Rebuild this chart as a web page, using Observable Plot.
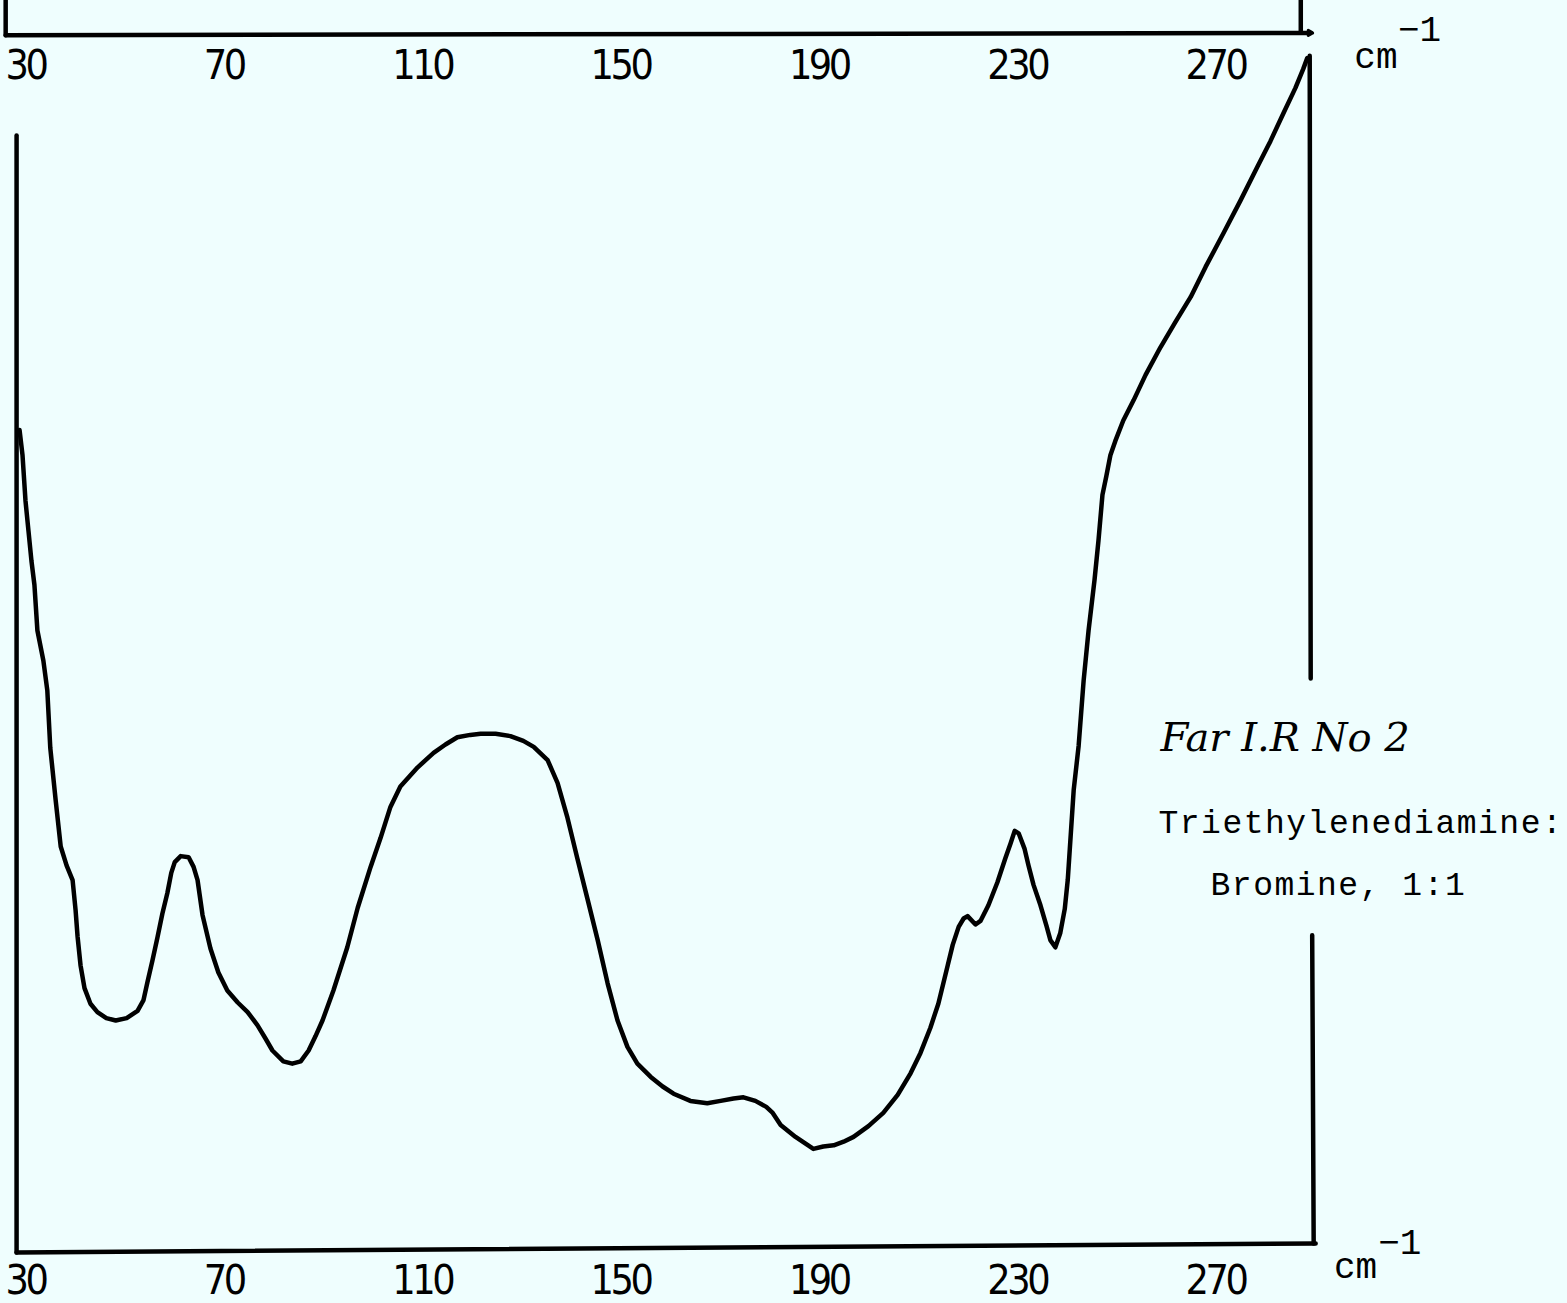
<!DOCTYPE html>
<html>
<head>
<meta charset="utf-8">
<script src="https://cdn.jsdelivr.net/npm/d3@7"></script>
<script src="https://cdn.jsdelivr.net/npm/@observablehq/plot@0.6"></script>
<style>
  html, body { margin: 0; padding: 0; background: #effefe; }
  #chart { width: 1567px; height: 1303px; overflow: hidden; }
</style>
</head>
<body>
<div id="chart"></div>
<script>
// ---- Data: far-IR spectrum, Triethylenediamine : Bromine 1:1 ----
// wavenumber (cm^-1)
const wavenumber = [
  28.8, 29.4, 30.0, 30.6, 31.2, 31.8, 32.4, 33.6, 34.4, 35.0, 36.1, 37.1, 38.3, 39.5, 40.1, 40.5,
  41.1, 41.9, 43.1, 44.5, 46.3, 48.2, 50.4, 52.6, 53.8, 54.6, 55.6, 56.6, 57.6, 58.6, 59.4, 60.1,
  61.3, 62.9, 63.9, 64.7, 65.7, 67.3, 68.9, 70.7, 72.8, 74.8, 76.8, 78.4, 79.8, 82.0, 83.8, 85.5,
  87.1, 88.5, 89.9, 92.1, 94.9, 97.0, 99.6, 101.6, 103.6, 105.6, 109.1, 112.3, 114.7, 117.1, 119.7,
  121.8, 124.8, 127.8, 130.4, 132.5, 135.3, 137.3, 139.3, 141.3, 143.3, 145.4, 147.4, 149.4, 151.4,
  153.4, 156.1, 158.5, 160.7, 164.1, 167.5, 170.2, 172.8, 174.8, 177.2, 179.4, 180.7, 182.3, 185.3,
  188.9, 190.9, 193.0, 195.0, 197.0, 200.0, 203.0, 205.9, 208.5, 210.5, 212.5, 214.1, 216.0, 217.0,
  218.2, 219.2, 220.0, 221.6, 222.6, 224.2, 226.0, 227.6, 228.7, 229.5, 230.3, 231.5, 232.3, 233.3,
  234.7, 235.9, 236.7, 237.7, 238.7, 239.6, 240.2, 240.6, 241.4, 242.4, 243.4, 244.4, 245.6, 246.4,
  247.2, 248.0, 248.8, 249.8, 251.4, 253.5, 255.9, 258.9, 261.9, 265.0, 268.0, 271.6, 275.0, 278.4,
  281.1, 283.7, 286.1, 287.7, 288.5
];
// relative transmittance (%)
const transmittance = [
  68.2, 66.1, 62.3, 59.8, 57.3, 55.3, 51.5, 49.0, 46.5, 41.7, 37.3, 33.5, 31.9, 30.7, 28.2, 26.0,
  23.6, 21.7, 20.4, 19.7, 19.2, 19.0, 19.2, 19.8, 20.7, 22.2, 24.0, 25.9, 27.9, 29.6, 31.3, 32.2,
  32.7, 32.6, 31.8, 30.7, 27.8, 25.0, 23.0, 21.5, 20.5, 19.7, 18.6, 17.5, 16.5, 15.6, 15.4, 15.6,
  16.5, 17.7, 19.0, 21.5, 25.1, 28.4, 31.8, 34.2, 36.8, 38.5, 40.1, 41.3, 42.0, 42.6, 42.8,
  42.9, 42.9, 42.7, 42.3, 41.8, 40.7, 38.8, 35.9, 32.5, 29.2, 25.7, 22.1, 19.0, 16.8,
  15.4, 14.3, 13.5, 12.9, 12.3, 12.1, 12.3, 12.5, 12.6, 12.3, 11.8, 11.3, 10.3, 9.3,
  8.3, 8.5, 8.6, 8.9, 9.3, 10.2, 11.3, 12.8, 14.6, 16.3, 18.4, 20.4, 23.6, 25.3,
  26.8, 27.5, 27.7, 27.0, 27.3, 28.6, 30.5, 32.5, 33.8, 34.8, 34.6, 33.3, 31.9, 30.3,
  28.6, 26.9, 25.7, 25.1, 26.3, 28.3, 30.7, 33.2, 38.2, 41.9, 47.3, 51.5, 55.7, 59.0,
  62.8, 64.4, 66.1, 67.3, 69.0, 70.7, 72.8, 75.1, 77.2, 79.3, 81.8, 84.6, 87.3, 90.1,
  92.3, 94.6, 96.7, 98.3, 99.2
];

// tick labels (cm^-1)
const tickValues = [30, 70, 110, 150, 190, 230, 270];
const tickLabels = ["30", "70", "110", "150", "190", "230", "270"];

// chart frame segments (segment id, wavenumber, transmittance)
const frameSeg = ["left", "left", "bottom", "bottom", "rightUp", "rightUp", "rightLow", "rightLow",
                  "prevAxis", "prevAxis", "prevLeft", "prevLeft", "prevRight", "prevRight"];
const frameX   = [28.2, 28.2, 28.2, 290.2, 289.0, 289.2, 289.5, 289.8,
                  26.0, 288.6, 26.0, 26.0, 287.2, 287.2];
const frameY   = [92.75, -0.33, -0.33, 0.42, 99.4, 47.5, 26.1, 0.42,
                  101.1, 101.3, 104.5, 101.1, 104.5, 101.5];

// annotation text
const noteTitle = "Far I.R No 2";
const noteLines = ["Triethylenediamine:", "Bromine, 1:1"];
const unitBase = "cm";
const unitExp = "\u22121";

const curve = wavenumber.map((w, i) => ({w, t: transmittance[i]}));
const frame = frameSeg.map((s, i) => ({s, w: frameX[i], t: frameY[i]}));
const ticks = tickValues.map((v, i) => ({v, label: tickLabels[i]}));

const mono = "Liberation Mono, DejaVu Sans Mono, monospace";
const narrow = "Liberation Sans Narrow, DejaVu Sans Condensed, Arial Narrow, sans-serif";

const plot = Plot.plot({
  width: 1567,
  height: 1303,
  margin: 0,
  style: {background: "#effefe", overflow: "visible", color: "#000"},
  x: {domain: [30, 270], range: [25, 1215], axis: null},
  y: {domain: [0, 100], range: [1248, 48], axis: null},
  marks: [
    // frame
    Plot.line(frame, {x: "w", y: "t", z: "s", stroke: "#000", strokeWidth: 4.5, strokeLinecap: "round"}),
    Plot.arrow([{x1: 286.5, x2: 289.6, y: 101.3}], {x1: "x1", x2: "x2", y1: "y", y2: "y", stroke: "#000", strokeWidth: 3, headLength: 10}),
    // spectrum
    Plot.line(curve, {x: "w", y: "t", stroke: "#000", strokeWidth: 4.5, strokeLinejoin: "round", strokeLinecap: "round"}),
    // tick labels: previous chart (top) and this chart (bottom)
    Plot.text(ticks, {x: "v", y: 98.55, text: "label", fontFamily: narrow, fontSize: 41, fill: "#000"}),
    Plot.text(ticks, {x: "v", y: -2.7, text: "label", fontFamily: narrow, fontSize: 41, fill: "#000"}),
    // units
    Plot.text([unitBase], {x: 298.0, y: 99.3, text: d => d, textAnchor: "start", fontFamily: mono, fontSize: 36, fill: "#000"}),
    Plot.text([unitExp], {x: 306.8, y: 101.6, text: d => d, textAnchor: "start", fontFamily: mono, fontSize: 36, fill: "#000"}),
    Plot.text([unitBase], {x: 293.9, y: -1.5, text: d => d, textAnchor: "start", fontFamily: mono, fontSize: 36, fill: "#000"}),
    Plot.text([unitExp], {x: 302.8, y: 0.5, text: d => d, textAnchor: "start", fontFamily: mono, fontSize: 36, fill: "#000"}),
    // annotations
    Plot.text([noteTitle], {x: 258.9, y: 42.5, text: d => d, textAnchor: "start", fontFamily: "DejaVu Serif, serif", fontStyle: "italic", fontSize: 40, fill: "#000"}),
    Plot.text([noteLines[0]], {x: 258.5, y: 35.5, text: d => d, textAnchor: "start", fontFamily: mono, fontSize: 33, fill: "#000"}),
    Plot.text([noteLines[1]], {x: 269.0, y: 30.3, text: d => d, textAnchor: "start", fontFamily: mono, fontSize: 33, fill: "#000"})
  ]
});

const svg = d3.select(plot);
svg.selectAll("g").filter(function () {
  return (this.getAttribute("font-family") || "").startsWith("Liberation Mono") &&
         this.getAttribute("font-size") === "33";
}).attr("letter-spacing", "1.5px");
svg.selectAll("g").filter(function () {
  return (this.getAttribute("font-family") || "").startsWith("Liberation Sans Narrow");
}).attr("letter-spacing", "-3.5px").attr("font-stretch", "condensed");

document.getElementById("chart").appendChild(plot);
</script>
</body>
</html>
